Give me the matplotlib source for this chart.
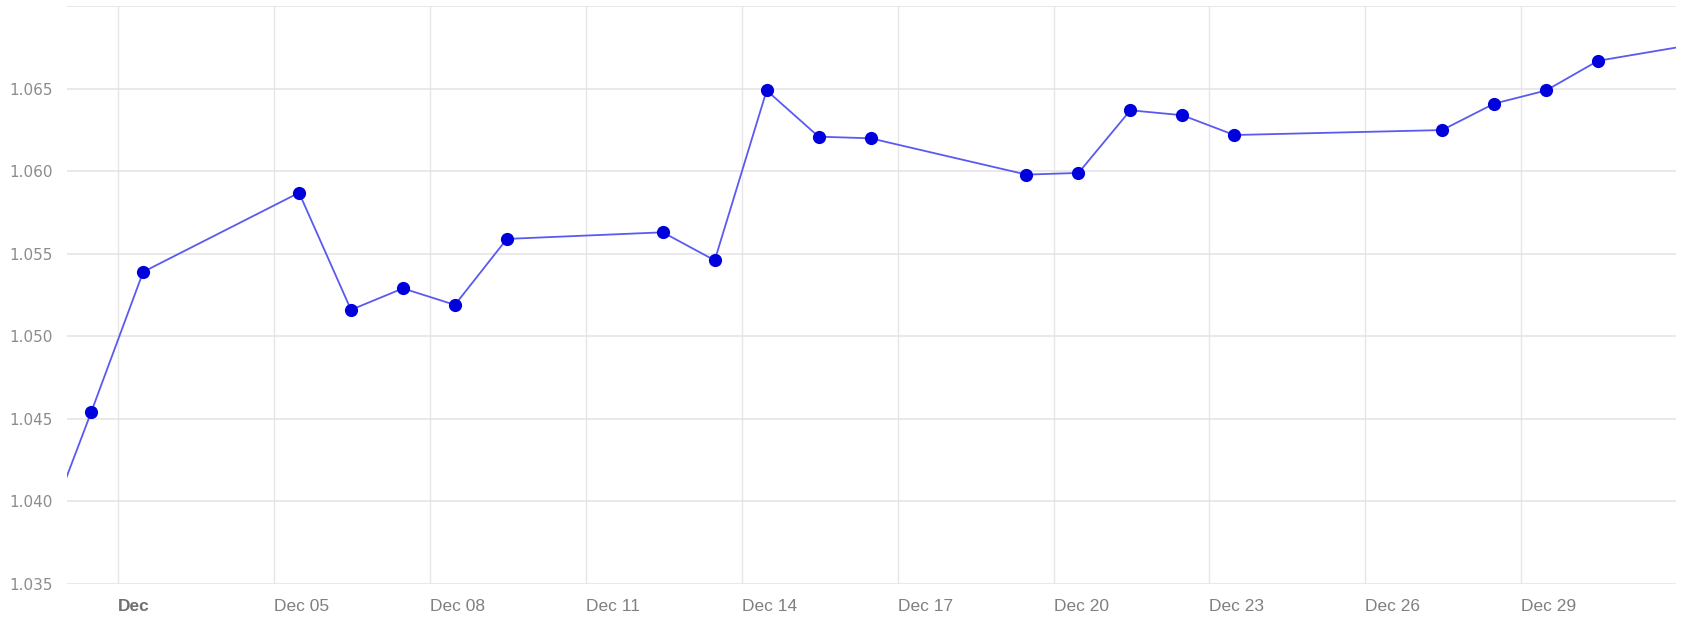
import numpy as np
import pandas as pd
import matplotlib
matplotlib.use("Agg")
import matplotlib.pyplot as plt
import matplotlib.transforms as mtransforms

# daily readings (points sit around midday); first and last fall outside the view
dates = ["2022-11-30", "2022-12-01", "2022-12-02", "2022-12-05", "2022-12-06",
         "2022-12-07", "2022-12-08", "2022-12-09", "2022-12-12", "2022-12-13",
         "2022-12-14", "2022-12-15", "2022-12-16", "2022-12-19", "2022-12-20",
         "2022-12-21", "2022-12-22", "2022-12-23", "2022-12-27", "2022-12-28",
         "2022-12-29", "2022-12-30", "2023-01-02"]
values = [1.0371, 1.0454, 1.0539, 1.0587, 1.0516,
          1.0529, 1.0519, 1.0559, 1.0563, 1.0546,
          1.0649, 1.0621, 1.0620, 1.0598, 1.0599,
          1.0637, 1.0634, 1.0622, 1.0625, 1.0641,
          1.0649, 1.0667, 1.0683]

tick_dates = ["2022-12-02", "2022-12-05", "2022-12-08", "2022-12-11", "2022-12-14",
              "2022-12-17", "2022-12-20", "2022-12-23", "2022-12-26", "2022-12-29"]
tick_labels = ["Dec", "Dec 05", "Dec 08", "Dec 11", "Dec 14",
               "Dec 17", "Dec 20", "Dec 23", "Dec 26", "Dec 29"]
y_ticks = [1.035, 1.040, 1.045, 1.050, 1.055, 1.060, 1.065, 1.070]
y_labels = ["1.035", "1.040", "1.045", "1.050", "1.055", "1.060", "1.065", ""]

x = pd.to_datetime(dates) + pd.Timedelta(hours=11.5)

fig = plt.figure(figsize=(16.84, 6.19), dpi=100)
ax = fig.add_axes([0.0396, 0.0572, 0.9556, 0.9325])

ax.plot(x, values, color="#5a5af0", linewidth=1.3, zorder=3)
ax.plot(x, values, linestyle="none", marker="o", markersize=9.5,
        color="#0000dd", markeredgewidth=0, zorder=4)

ax.set_xlim(pd.Timestamp("2022-12-01 00:10"), pd.Timestamp("2022-12-31 23:30"))
ax.set_ylim(1.035, 1.070)

ax.set_yticks(y_ticks)
ax.set_yticklabels(y_labels, fontsize=11, color="#8c8c8c", family="DejaVu Sans")
ax.set_xticks(pd.to_datetime(tick_dates))
ax.set_xticklabels(tick_labels, fontsize=12.5, color="#808080",
                   family="Liberation Sans", ha="left")
ax.get_xticklabels()[0].set_fontweight("bold")
ax.get_xticklabels()[0].set_color("#707070")

# nudge x labels right of their gridline
offset = mtransforms.ScaledTranslation(4 / 100, 0, fig.dpi_scale_trans)
for lbl in ax.get_xticklabels():
    lbl.set_transform(lbl.get_transform() + offset)

ax.tick_params(axis="both", length=0)
ax.tick_params(axis="x", pad=11)
ax.tick_params(axis="y", pad=10)

ax.grid(True, axis="y", color="#e3e3e3", linewidth=1.1)
ax.grid(True, axis="x", color="#e6e6e6", linewidth=1.0)
ax.set_axisbelow(True)
for s in ax.spines.values():
    s.set_visible(False)

fig.savefig("out.png", dpi=100)
